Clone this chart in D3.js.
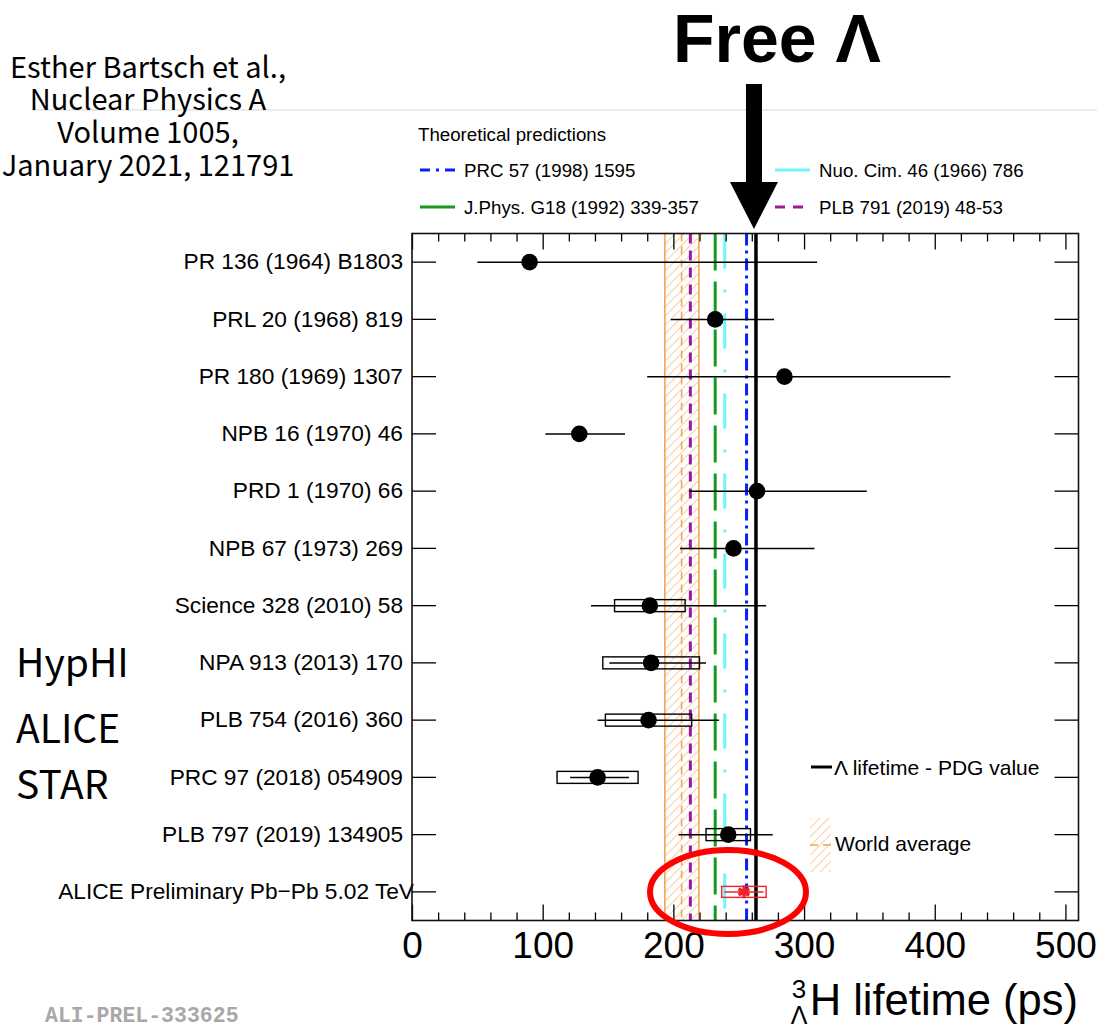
<!DOCTYPE html>
<html>
<head>
<meta charset="utf-8">
<script src="https://cdn.jsdelivr.net/npm/d3@7"></script>
<style>
  body { margin: 0; background: #fff; }
  svg { display: block; }
  .axis text { font-family: "Liberation Sans", Arial, sans-serif; fill: #000; }
  .axis line { stroke: #000; stroke-width: 1.3; }
  .jp { font-family: "Noto Sans CJK JP", "Noto Sans", sans-serif; fill: #000; }
  .rt { font-family: "Liberation Sans", Arial, sans-serif; fill: #000; }
</style>
</head>
<body>
<div id="chart"></div>
<script>
// measurements, top to bottom
const labels = [
  "PR 136 (1964) B1803", "PRL 20 (1968) 819", "PR 180 (1969) 1307", "NPB 16 (1970) 46",
  "PRD 1 (1970) 66", "NPB 67 (1973) 269", "Science 328 (2010) 58", "NPA 913 (2013) 170",
  "PLB 754 (2016) 360", "PRC 97 (2018) 054909", "PLB 797 (2019) 134905",
  "ALICE Preliminary Pb\u2212Pb 5.02 TeV"
];
const values = [90, 232, 285, 128, 264, 246, 182, 183, 181, 142, 242, 254];
const statLo = [50, 198, 180, 102, 212, 205, 137, 151, 142, 121, 204, 239];
const statHi = [310, 277, 412, 163, 348, 308, 271, 225, 235, 166, 276, 269];
const sysLo  = [null, null, null, null, null, null, 155, 146, 148, 111, 225, 237];
const sysHi  = [null, null, null, null, null, null, 209, 220, 214, 173, 259, 271];

// theory predictions
const theoryNames  = ["PRC 57 (1998) 1595", "J.Phys. G18 (1992) 339-357", "Nuo. Cim. 46 (1966) 786", "PLB 791 (2019) 48-53"];
const theoryValues = [256, 232, 239.3, 213];
const theoryColors = ["#0a1eff", "#179a1c", "#6ff7f7", "#9a1a9a"];
const theoryDash   = ["12,5,3,5", "37,11", "35,21,3,21", "10,7"];
const theoryLegendDash = ["10,6,3,6", null, null, "10,8"];

const worldAvg = [193.5, 206.3, 219.5]; // low, central, high
const pdgLambda = 263.2;

const xMajor = [0, 100, 200, 300, 400, 500];
const xMinor = d3.range(0, 511, 20);

const W = 1097, H = 1030;
const svg = d3.select("#chart").append("svg").attr("width", W).attr("height", H);

const x = d3.scaleLinear().domain([0, 510]).range([412, 1078.5]);
const y = d3.scaleBand().domain(labels).range([233.5, 920.5]);
const yc = l => y(l) + y.bandwidth() / 2;
const yTop = 233.5, yBot = 920.5;

// hatch pattern for the world average
const defs = svg.append("defs");
const pat = defs.append("pattern").attr("id", "hatch").attr("patternUnits", "userSpaceOnUse")
  .attr("width", 9).attr("height", 9);
pat.append("path").attr("d", "M-2,11 L11,-2 M-2,2 L2,-2 M7,11 L11,7")
  .attr("stroke", "#f8d3ab").attr("stroke-width", 1.2);

// grey rule at top
svg.append("line").attr("x1", 32).attr("x2", W).attr("y1", 110).attr("y2", 110)
  .attr("stroke", "#d8d8d8").attr("stroke-width", 1.2);

// world average band
svg.append("rect").attr("x", x(worldAvg[0])).attr("width", x(worldAvg[2]) - x(worldAvg[0]))
  .attr("y", yTop).attr("height", yBot - yTop).attr("fill", "url(#hatch)");
[worldAvg[0], worldAvg[2]].forEach(v => {
  svg.append("line").attr("x1", x(v)).attr("x2", x(v)).attr("y1", yTop).attr("y2", yBot)
    .attr("stroke", "#f5a456").attr("stroke-width", 1.6);
});
svg.append("line").attr("x1", x(worldAvg[1])).attr("x2", x(worldAvg[1])).attr("y1", yTop).attr("y2", yBot)
  .attr("stroke", "#f5a456").attr("stroke-width", 1.6).attr("stroke-dasharray", "8,5");

// theory lines
theoryValues.forEach((v, i) => {
  svg.append("line").attr("x1", x(v)).attr("x2", x(v)).attr("y1", yTop).attr("y2", yBot)
    .attr("stroke", theoryColors[i]).attr("stroke-width", 3)
    .attr("stroke-dasharray", theoryDash[i]);
});

// PDG lambda lifetime
svg.append("line").attr("x1", x(pdgLambda)).attr("x2", x(pdgLambda)).attr("y1", yTop).attr("y2", yBot)
  .attr("stroke", "#000").attr("stroke-width", 3.5);

// axes
const g = svg.append("g");
g.append("g").attr("class", "axis").attr("transform", `translate(0,${yBot})`)
  .call(d3.axisBottom(x).tickValues(xMajor).tickSize(-16).tickPadding(6).tickFormat(d3.format("d")))
  .call(a => a.select(".domain").remove())
  .call(a => a.selectAll("text").attr("font-size", 37).attr("dy", "0.85em"));
g.append("g").attr("class", "axis").attr("transform", `translate(0,${yBot})`)
  .call(d3.axisBottom(x).tickValues(xMinor.filter(v => v % 100)).tickSize(-8).tickFormat(""))
  .call(a => a.select(".domain").remove());
g.append("g").attr("class", "axis").attr("transform", `translate(0,${yTop})`)
  .call(d3.axisTop(x).tickValues(xMajor).tickSize(-16).tickFormat(""))
  .call(a => a.select(".domain").remove());
g.append("g").attr("class", "axis").attr("transform", `translate(0,${yTop})`)
  .call(d3.axisTop(x).tickValues(xMinor.filter(v => v % 100)).tickSize(-8).tickFormat(""))
  .call(a => a.select(".domain").remove());
g.append("g").attr("class", "axis").attr("transform", `translate(${x.range()[0]},0)`)
  .call(d3.axisLeft(y).tickSize(-24).tickPadding(9))
  .call(a => a.select(".domain").remove())
  .call(a => a.selectAll("text").attr("font-size", 22.7))
  .call(a => a.selectAll("text").filter(d => d === labels[labels.length - 1]).attr("x", 2));
g.append("g").attr("class", "axis").attr("transform", `translate(${x.range()[1]},0)`)
  .call(d3.axisRight(y).tickSize(-24).tickFormat(""))
  .call(a => a.select(".domain").remove());

svg.append("rect").attr("x", x.range()[0]).attr("y", yTop)
  .attr("width", x.range()[1] - x.range()[0]).attr("height", yBot - yTop)
  .attr("fill", "none").attr("stroke", "#111").attr("stroke-width", 1.6);

// data points
const last = labels.length - 1;
labels.forEach((l, i) => {
  const col = i === last ? "#f0222a" : "#000";
  const cy = yc(l);
  if (sysLo[i] != null) {
    const h = i === last ? 11 : 12;
    svg.append("rect").attr("x", x(sysLo[i])).attr("width", x(sysHi[i]) - x(sysLo[i]))
      .attr("y", cy - h / 2).attr("height", h)
      .attr("fill", "none").attr("stroke", col).attr("stroke-width", 1.4);
  }
  svg.append("line").attr("x1", x(statLo[i])).attr("x2", x(statHi[i])).attr("y1", cy).attr("y2", cy)
    .attr("stroke", col).attr("stroke-width", 1.5);
  if (i === last) {
    svg.append("path").attr("d", d3.symbol(d3.symbolAsterisk, 110)())
      .attr("transform", `translate(${x(values[i])},${cy})`)
      .attr("fill", "none").attr("stroke", col).attr("stroke-width", 3.2);
  } else {
    svg.append("circle").attr("cx", x(values[i])).attr("cy", cy).attr("r", 8.3).attr("fill", "#000");
  }
});

// theory legend
svg.append("text").attr("class", "rt").attr("x", 418).attr("y", 141).attr("font-size", 18.7)
  .text("Theoretical predictions");
const legPos = [[420, 170], [420, 207], [775, 170], [775, 207]];
theoryNames.forEach((n, i) => {
  const [lx, ly] = legPos[i];
  svg.append("line").attr("x1", lx).attr("x2", lx + 35).attr("y1", ly).attr("y2", ly)
    .attr("stroke", theoryColors[i]).attr("stroke-width", 3.2)
    .attr("stroke-dasharray", theoryLegendDash[i]);
  svg.append("text").attr("class", "rt").attr("x", lx + 44).attr("y", ly + 7)
    .attr("font-size", 18.7).text(n);
});

// inner legend
svg.append("line").attr("x1", 811).attr("x2", 832).attr("y1", 767).attr("y2", 767)
  .attr("stroke", "#000").attr("stroke-width", 3);
svg.append("text").attr("class", "rt").attr("x", 834).attr("y", 774.5).attr("font-size", 21)
  .text("\u039b lifetime - PDG value");
svg.append("rect").attr("x", 810).attr("y", 818).attr("width", 21).attr("height", 54)
  .attr("fill", "url(#hatch)");
svg.append("line").attr("x1", 810).attr("x2", 831).attr("y1", 845).attr("y2", 845)
  .attr("stroke", "#f5a456").attr("stroke-width", 1.6).attr("stroke-dasharray", "8,5");
svg.append("text").attr("class", "rt").attr("x", 835).attr("y", 851).attr("font-size", 21)
  .text("World average");

// x-axis title
svg.append("text").attr("class", "rt").attr("x", 1078).attr("y", 1015).attr("text-anchor", "end")
  .attr("font-size", 43.5).text("H lifetime (ps)");
svg.append("text").attr("class", "rt").attr("x", 799).attr("y", 998).attr("text-anchor", "middle")
  .attr("font-size", 26).text("3");
svg.append("text").attr("class", "rt").attr("x", 799).attr("y", 1024).attr("text-anchor", "middle")
  .attr("font-size", 25).text("\u039b");

// preliminary tag
svg.append("text").attr("x", 45).attr("y", 1022).attr("font-family", "Liberation Mono, monospace")
  .attr("font-weight", "bold").attr("font-size", 21.5).attr("fill", "#a8a8a8").text("ALI-PREL-333625");

// annotations
const refLines = ["Esther Bartsch et al.,", "Nuclear Physics A", "Volume 1005,", "January 2021, 121791"];
const refY = [78, 110, 143, 176];
refLines.forEach((t, i) => {
  svg.append("text").attr("class", "jp").attr("x", 148).attr("y", refY[i])
    .attr("text-anchor", "middle").attr("font-size", 29).text(t);
});
[["HypHI", 677], ["ALICE", 743], ["STAR", 799]].forEach(([t, ty]) => {
  svg.append("text").attr("class", "jp").attr("x", 16).attr("y", ty).attr("font-size", 39).text(t);
});

svg.append("text").attr("class", "rt").attr("x", 777).attr("y", 62).attr("text-anchor", "middle")
  .attr("font-size", 68).attr("font-weight", "bold").text("Free \u039b");

const ax = x(pdgLambda) - 2;
svg.append("path")
  .attr("d", `M${ax - 8},84 L${ax + 8},84 L${ax + 8},182 L${ax + 24},182 L${ax},229 L${ax - 24},182 L${ax - 8},182 Z`)
  .attr("fill", "#000");

// red ellipse around ALICE
svg.append("ellipse").attr("cx", 728).attr("cy", 892).attr("rx", 78).attr("ry", 42)
  .attr("fill", "none").attr("stroke", "#f00").attr("stroke-width", 6);
</script>
</body>
</html>
